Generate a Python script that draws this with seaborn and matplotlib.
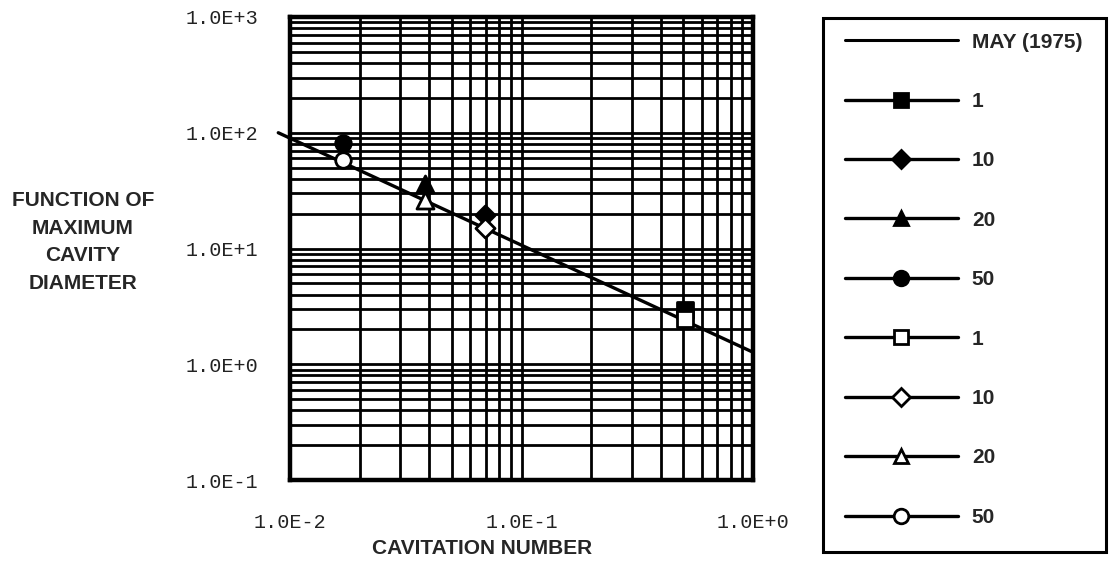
import matplotlib
matplotlib.use("Agg")
import matplotlib.pyplot as plt
import seaborn as sns
import pandas as pd
from matplotlib.lines import Line2D
from matplotlib.patches import Rectangle
from matplotlib.ticker import FixedLocator, LogLocator, NullFormatter

# ---- data ----
may_x = [0.0089, 1.0]
may_y = [100.0, 1.27]
may_label = "MAY (1975)"

series_labels = ["1", "10", "20", "50", "1", "10", "20", "50"]
cav_number = [0.508, 0.0695, 0.0383, 0.0169, 0.508, 0.0695, 0.0383, 0.0169]
cav_diameter = [2.92, 19.5, 36.0, 82.0, 2.44, 14.9, 26.5, 58.5]
series_markers = ["s", "D", "^", "o", "s", "D", "^", "o"]
series_filled = [True, True, True, True, False, False, False, False]

x_ticks = [0.01, 0.1, 1.0]
x_tick_labels = ["1.0E-2", "1.0E-1", "1.0E+0"]
y_ticks = [0.1, 1.0, 10.0, 100.0, 1000.0]
y_tick_labels = ["1.0E-1", "1.0E+0", "1.0E+1", "1.0E+2", "1.0E+3"]

x_title = "CAVITATION NUMBER"
y_title = "FUNCTION OF\nMAXIMUM\nCAVITY\nDIAMETER"

# ---- style ----
sns.set_style("white")
plt.rcParams["font.family"] = ["Liberation Sans", "DejaVu Sans"]

W, H = 1117, 567
fig = plt.figure(figsize=(W / 100, H / 100), dpi=100)
ax = fig.add_axes([290 / W, 1 - 480 / H, (753 - 290) / W, (480 - 17) / H])
ax.set_xscale("log")
ax.set_yscale("log")
ax.set_xlim(0.01, 1.0)
ax.set_ylim(0.1, 1000.0)

# grid
ax.xaxis.set_major_locator(FixedLocator(x_ticks))
ax.yaxis.set_major_locator(FixedLocator(y_ticks))
ax.xaxis.set_minor_locator(LogLocator(base=10, subs=range(2, 10)))
ax.yaxis.set_minor_locator(LogLocator(base=10, subs=range(2, 10)))
ax.xaxis.set_minor_formatter(NullFormatter())
ax.yaxis.set_minor_formatter(NullFormatter())
ax.grid(which="both", color="black", linewidth=2.0)
ax.set_axisbelow(True)
ax.set_xticklabels(x_tick_labels)
ax.set_yticklabels(y_tick_labels)
ax.tick_params(which="both", length=0)
ax.tick_params(axis="x", pad=24)
ax.tick_params(axis="y", pad=23)
for lab in ax.get_xticklabels() + ax.get_yticklabels():
    lab.set_fontfamily("Liberation Mono")
    lab.set_fontsize(14.5)
    lab.set_color("#222222")
for sp in ax.spines.values():
    sp.set_color("black")
    sp.set_linewidth(3.2)

# fit line
df_may = pd.DataFrame({"x": may_x, "y": may_y})
sns.lineplot(data=df_may, x="x", y="y", ax=ax, color="black", linewidth=2.4,
             legend=False, zorder=3)
for ln in ax.lines:
    ln.set_clip_on(False)

# points
marker_sizes = {"s": 125, "D": 95, "^": 150, "o": 125}
for xv, yv, m, f in zip(cav_number, cav_diameter, series_markers, series_filled):
    sns.scatterplot(x=[xv], y=[yv], marker=m, s=marker_sizes[m], ax=ax,
                    color="black" if f else "white", edgecolor="black",
                    linewidth=2.0, zorder=5, legend=False)

ax.set_xlabel("")
ax.set_ylabel("")

fig.text(482 / W, 1 - 548 / H, x_title, ha="center", va="center",
         fontsize=15, fontweight="bold")
fig.text(83 / W, 1 - 242 / H, y_title, ha="center", va="center",
         fontsize=15, fontweight="bold", linespacing=1.58)

# legend
handles = [Line2D([], [], color="black", linewidth=2.2)]
labels = [may_label]
for lab, m, f in zip(series_labels, series_markers, series_filled):
    handles.append(Line2D([], [], color="black", linewidth=2.4, marker=m,
                          markersize=9 if m == "D" else 10.5,
                          markerfacecolor="black" if f else "white",
                          markeredgecolor="black", markeredgewidth=2.0))
    labels.append(lab)

fig.patches.append(Rectangle((823 / W, 1 - 552 / H), (1106 - 823) / W, (552 - 18) / H,
                             transform=fig.transFigure, facecolor="none",
                             edgecolor="black", linewidth=2.2))
leg = fig.legend(handles, labels, loc="upper left",
                 bbox_to_anchor=(845 / W, 1 - 32.5 / H), frameon=False,
                 borderpad=0, borderaxespad=0, handlelength=5.42,
                 handletextpad=0.67, labelspacing=1.94,
                 prop={"family": "Liberation Sans", "weight": "bold", "size": 15})

fig.savefig("out.png", dpi=100)
